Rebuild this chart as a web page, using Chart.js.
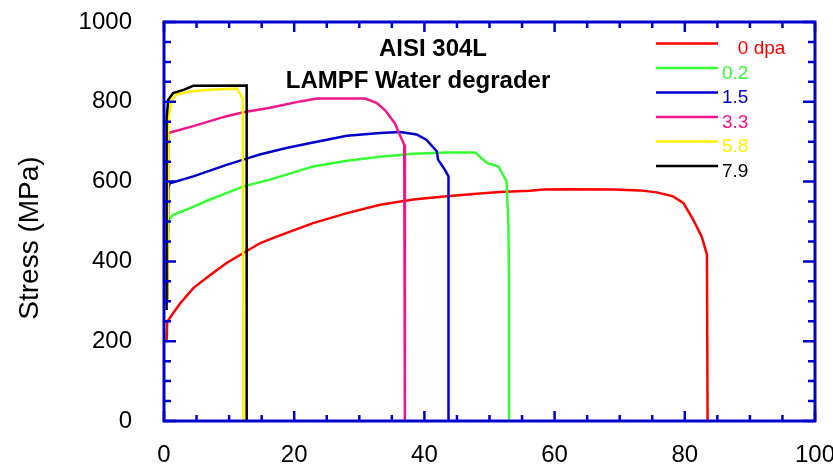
<!DOCTYPE html>
<html>
<head>
<meta charset="utf-8">
<script src="https://cdn.jsdelivr.net/npm/chart.js@4/dist/chart.umd.min.js"></script>
<style>
    html, body { margin: 0; padding: 0; background: #fff; }
    #wrap { width: 833px; height: 465px; position: relative; }
</style>
</head>
<body>
<div id="wrap"><canvas id="stress-chart"></canvas></div>
<script>
// Series: irradiation dose (dpa), engineering strain (%) vs stress (MPa)
const seriesLabels = ['   0 dpa', '0.2', '1.5', '3.3', '5.8', '7.9'];
const seriesColors = ['#ff0000', '#33ff33', '#0000cc', '#f0168c', '#ffee00', '#000000'];

const strain0 = [0.4, 0.5, 1.4, 2.5, 4.5, 7.1, 9.6, 12.2, 14.8, 17.3, 20.4, 22.9, 28.1, 33.2, 38.3, 43.4, 48.5, 51.6, 56.2, 58.3, 62.4, 69.0, 73.1, 75.7, 78.2, 79.8, 81.3, 82.6, 83.4, 83.5];
const stress0 = [200, 249, 270, 295, 333, 366, 396, 421, 446, 462, 481, 496, 521, 542, 555, 563, 570, 574, 577, 580, 581, 580, 578, 573, 563, 546, 504, 462, 417, 0];

const strain1 = [0.5, 0.66, 1.4, 3.5, 6.6, 9.6, 12.2, 16.3, 20.9, 22.9, 28.1, 33.2, 38.3, 43.4, 47.8, 48.5, 49.6, 51.4, 51.9, 52.6, 52.9, 53.0, 53.0];
const stress1 = [300, 504, 517, 530, 552, 571, 588, 605, 628, 638, 652, 662, 670, 673, 673, 663, 647, 638, 622, 602, 496, 354, 0];

const strain2 = [0.5, 0.66, 0.9, 4.5, 9.6, 12.2, 14.7, 18.8, 22.9, 28.1, 33.2, 36.3, 38.8, 40.3, 41.9, 42.1, 43.2, 43.7, 43.7];
const stress2 = [300, 584, 596, 613, 642, 655, 668, 684, 698, 715, 722, 724, 718, 705, 676, 655, 628, 613, 0];

const strain3 = [0.5, 0.66, 4.5, 9.6, 12.2, 16.3, 20.9, 23.5, 30.9, 32.7, 34.0, 35.5, 36.3, 36.9, 37.0];
const stress3 = [300, 722, 739, 764, 774, 785, 801, 808, 808, 797, 778, 745, 714, 693, 0];

const strain4 = [0.5, 0.66, 0.9, 1.2, 1.95, 4.0, 7.1, 11.2, 11.7, 12.1, 12.2];
const stress4 = [300, 755, 780, 805, 818, 826, 830, 833, 820, 808, 0];

const strain5 = [0.4, 0.4, 0.66, 1.4, 3.0, 4.5, 12.7, 12.7];
const stress5 = [278, 760, 805, 822, 830, 840, 841, 0];

const xTickLabels = ['0', '20', '40', '60', '80', '100'];
const yTickLabels = ['0', '200', '400', '600', '800', '1000'];
const titleLines = ['AISI 304L', 'LAMPF Water degrader'];
const yTitle = 'Stress (MPa)';

const strains = [strain0, strain1, strain2, strain3, strain4, strain5];
const stresses = [stress0, stress1, stress2, stress3, stress4, stress5];

const AXIS_BLUE = '#0000cc';
const FONT = "'Liberation Sans', Arial, Helvetica, sans-serif";

const datasets = seriesLabels.map((label, i) => ({
    label: label.trim(),
    data: strains[i].map((x, j) => ({ x: x, y: stresses[i][j] })),
    borderColor: seriesColors[i],
    backgroundColor: seriesColors[i],
    borderWidth: 2.5,
    pointRadius: 0,
    showLine: true,
    tension: 0,
    order: seriesLabels.length - i
}));

// frame round the plot plus inward ticks on all four sides
const frameTicks = {
    id: 'frameTicks',
    afterDatasetsDraw(chart) {
        const { ctx, chartArea: a, scales: { x, y } } = chart;
        ctx.save();
        ctx.strokeStyle = AXIS_BLUE;
        ctx.lineWidth = 2.5;
        ctx.beginPath();
        for (let v = 0; v <= 100; v += 5) {
            const px = x.getPixelForValue(v);
            const len = v % 20 === 0 ? 10 : 6;
            ctx.moveTo(px, a.bottom); ctx.lineTo(px, a.bottom - len);
            ctx.moveTo(px, a.top); ctx.lineTo(px, a.top + len);
        }
        for (let v = 0; v <= 1000; v += 50) {
            const py = y.getPixelForValue(v);
            const len = v % 200 === 0 ? 12 : 7;
            ctx.moveTo(a.left, py); ctx.lineTo(a.left + len, py);
            ctx.moveTo(a.right, py); ctx.lineTo(a.right - len, py);
        }
        ctx.stroke();
        ctx.lineWidth = 3;
        ctx.strokeRect(a.left, a.top, a.right - a.left, a.bottom - a.top);
        ctx.restore();
    }
};

// title, legend and rotated y title
const annotations = {
    id: 'annotations',
    afterDraw(chart) {
        const { ctx } = chart;
        ctx.save();
        ctx.fillStyle = '#000';
        ctx.font = 'bold 24px ' + FONT;
        ctx.textAlign = 'center';
        ctx.textBaseline = 'alphabetic';
        ctx.fillText(titleLines[0], 433, 56);
        ctx.fillText(titleLines[1], 418, 88);

        ctx.font = '19px ' + FONT;
        ctx.textAlign = 'left';
        ctx.lineWidth = 2.5;
        seriesLabels.forEach((label, i) => {
            const ly = 43.5 + i * 24.5;
            ctx.strokeStyle = seriesColors[i];
            ctx.beginPath();
            ctx.moveTo(656, ly); ctx.lineTo(718, ly);
            ctx.stroke();
            ctx.fillStyle = seriesColors[i];
            ctx.fillText(label, 722, ly + 10.5);
        });

        ctx.translate(30, 238);
        ctx.rotate(-Math.PI / 2);
        ctx.fillStyle = '#000';
        ctx.font = '28px ' + FONT;
        ctx.textAlign = 'center';
        ctx.textBaseline = 'middle';
        ctx.fillText(yTitle, 0, 0);
        ctx.restore();
    }
};

new Chart(document.getElementById('stress-chart'), {
    type: 'scatter',
    data: { datasets: datasets },
    options: {
        responsive: true,
        maintainAspectRatio: false,
        animation: false,
        devicePixelRatio: 1,
        layout: { padding: { left: 0, top: 22, right: 18, bottom: 0 } },
        plugins: {
            legend: { display: false },
            tooltip: { enabled: false }
        },
        scales: {
            x: {
                type: 'linear',
                min: 0,
                max: 100,
                grid: { display: false, drawTicks: false },
                border: { display: false },
                ticks: {
                    stepSize: 20,
                    padding: 20,
                    color: '#000',
                    font: { family: FONT, size: 24 },
                    maxRotation: 0,
                    callback: (value, index) => xTickLabels[index]
                },
                afterFit: scale => {
                    scale.height = 44;
                    scale.paddingLeft = 0;
                    scale.paddingRight = 0;
                }
            },
            y: {
                type: 'linear',
                min: 0,
                max: 1000,
                grid: { display: false, drawTicks: false },
                border: { display: false },
                ticks: {
                    stepSize: 200,
                    padding: 32,
                    color: '#000',
                    font: { family: FONT, size: 24 },
                    callback: (value, index) => yTickLabels[index]
                },
                afterFit: scale => {
                    scale.width = 164;
                    scale.paddingTop = 0;
                    scale.paddingBottom = 0;
                }
            }
        }
    },
    plugins: [frameTicks, annotations]
});
</script>
</body>
</html>
